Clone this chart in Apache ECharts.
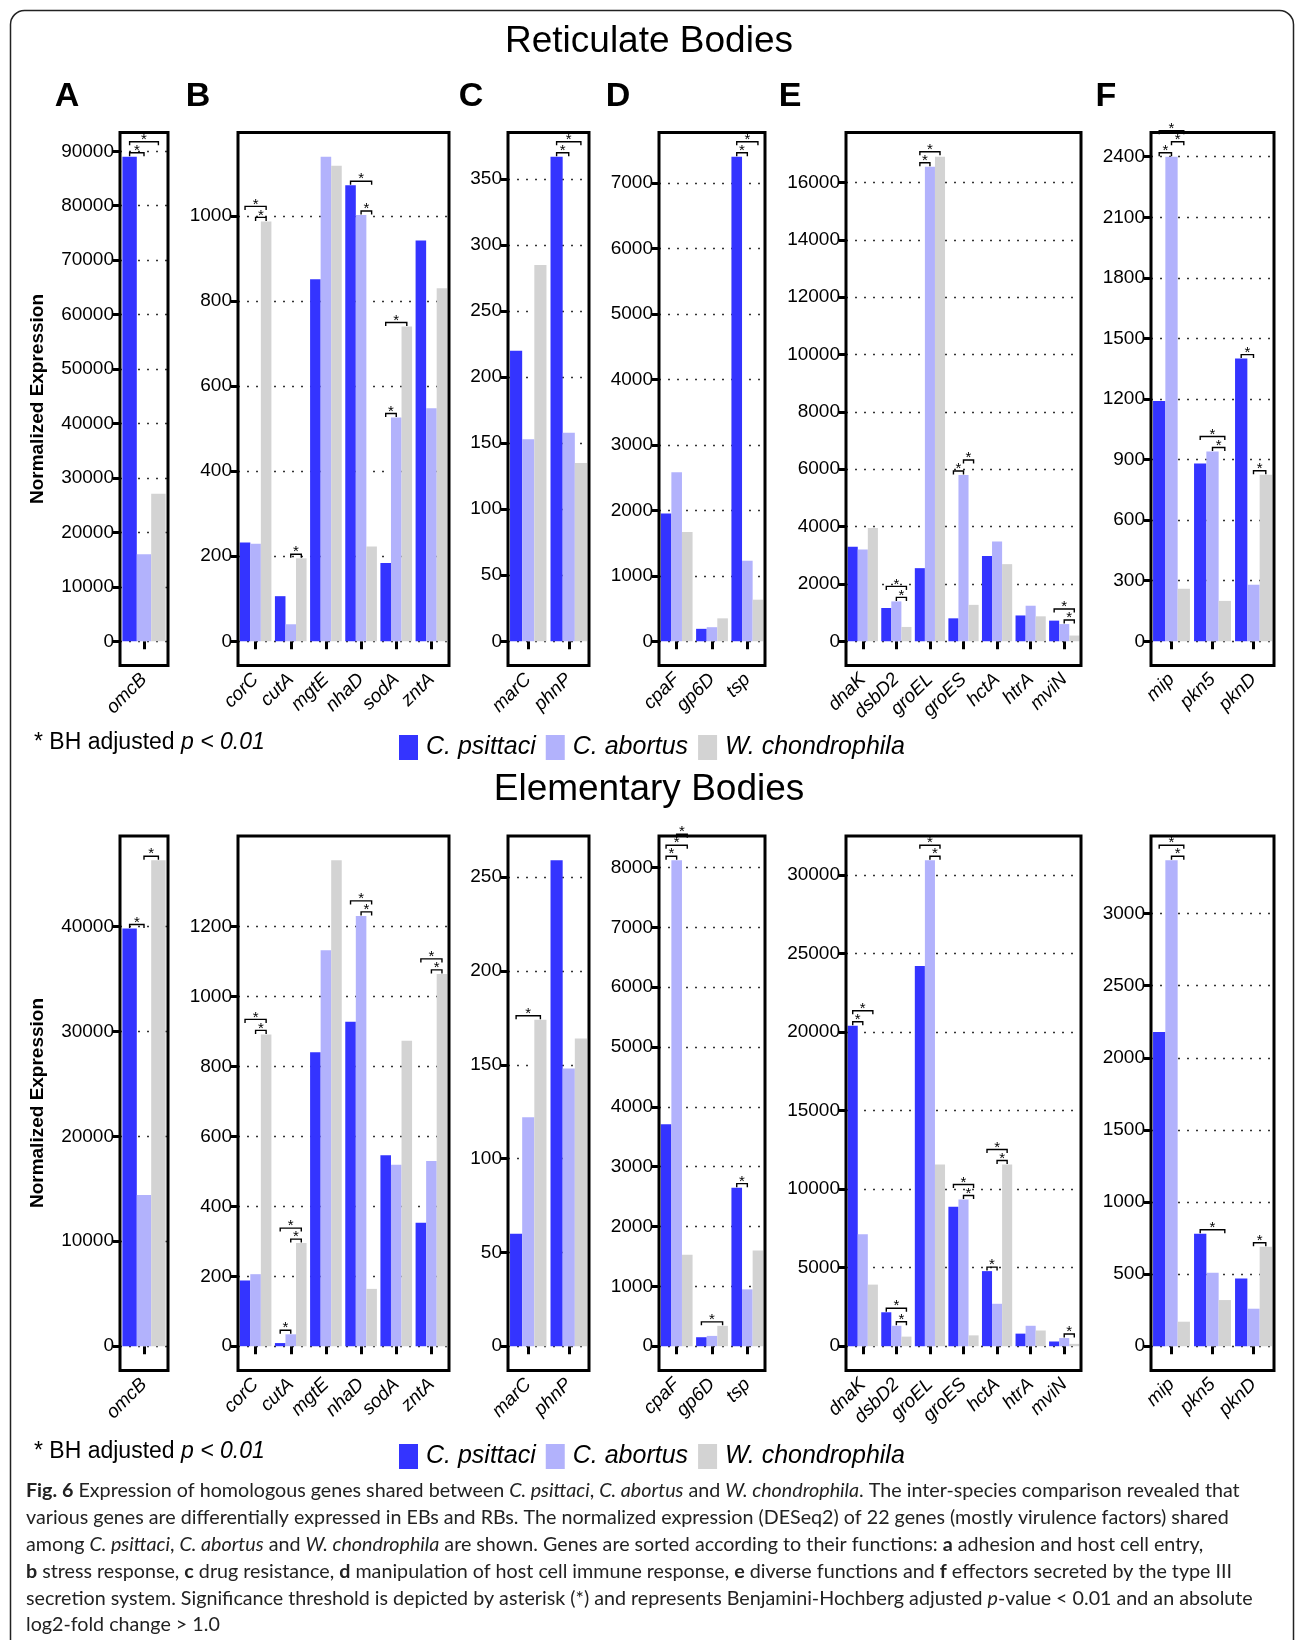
<!DOCTYPE html>
<html>
<head>
<meta charset="utf-8">
<script src="https://cdn.jsdelivr.net/npm/echarts@6/dist/echarts.min.js"></script>
<style>
html,body{margin:0;padding:0;background:#fff;}
#c{width:1295px;height:1640px;}
</style>
</head>
<body>
<div id="c"></div>
<script>
// ---------------- DATA ----------------
const seriesNames = ['C. psittaci', 'C. abortus', 'W. chondrophila'];
const panelLetters = ['A', 'B', 'C', 'D', 'E', 'F'];
const genes = ['omcB',
  'corC', 'cutA', 'mgtE', 'nhaD', 'sodA', 'zntA',
  'marC', 'phnP',
  'cpaF', 'gp6D', 'tsp',
  'dnaK', 'dsbD2', 'groEL', 'groES', 'hctA', 'htrA', 'mviN',
  'mip', 'pkn5', 'pknD'];
const panelGeneCounts = [1, 6, 2, 3, 7, 3];

// Reticulate Bodies
const rb_psittaci = [89000, 232, 106, 851, 1072, 184, 942, 220, 367, 1950, 190, 7400,
  3300, 1160, 2550, 800, 2970, 900, 720, 1190, 880, 1400];
const rb_abortus = [16000, 229, 40, 1139, 1002, 526, 548, 153, 158, 2580, 215, 1230,
  3200, 1390, 16550, 5800, 3480, 1240, 600, 2400, 940, 280];
const rb_chondrophila = [27100, 987, 195, 1118, 223, 740, 830, 285, 135, 1670, 350, 635,
  3950, 500, 16900, 1270, 2690, 870, 200, 260, 200, 825];
// y tick labels: step and highest labelled tick per panel
const rbTickSteps = [10000, 200, 50, 1000, 2000, 300];
const rbTickMax = [90000, 1000, 350, 7000, 16000, 2400];

// Elementary Bodies
const eb_psittaci = [39800, 188, 9, 841, 928, 546, 353, 60, 259, 3710, 150, 2650,
  20400, 2160, 24200, 8870, 4780, 800, 300, 2180, 780, 470];
const eb_abortus = [14400, 206, 34, 1133, 1231, 519, 530, 122, 148, 8120, 172, 950,
  7130, 1300, 30930, 9340, 2700, 1300, 520, 3370, 510, 260];
const eb_chondrophila = [46300, 892, 295, 1390, 164, 874, 1065, 174, 164, 1530, 340, 1600,
  3920, 610, 11570, 690, 11570, 1000, 150, 170, 320, 690];
const ebTickSteps = [10000, 200, 50, 1000, 5000, 500];
const ebTickMax = [40000, 1200, 250, 8000, 30000, 3000];

// significance brackets: [gene, fromSpecies, toSpecies] (0 psittaci, 1 abortus, 2 chondrophila)
const rbBrackets = [
  ['omcB', 0, 1], ['omcB', 0, 2],
  ['corC', 1, 2], ['corC', 0, 2],
  ['cutA', 1, 2],
  ['nhaD', 1, 2], ['nhaD', 0, 2],
  ['sodA', 0, 1], ['sodA', 0, 2],
  ['phnP', 0, 1], ['phnP', 0, 2],
  ['tsp', 0, 1], ['tsp', 0, 2],
  ['dsbD2', 1, 2], ['dsbD2', 0, 2],
  ['groEL', 0, 1], ['groEL', 0, 2],
  ['groES', 0, 1], ['groES', 1, 2],
  ['mviN', 1, 2], ['mviN', 0, 2],
  ['mip', 0, 1], ['mip', 1, 2], ['mip', 0, 2],
  ['pkn5', 1, 2], ['pkn5', 0, 2],
  ['pknD', 0, 1], ['pknD', 1, 2]
];
const ebBrackets = [
  ['omcB', 0, 1], ['omcB', 1, 2],
  ['corC', 1, 2], ['corC', 0, 2],
  ['cutA', 0, 1], ['cutA', 1, 2], ['cutA', 0, 2],
  ['nhaD', 1, 2], ['nhaD', 0, 2],
  ['zntA', 1, 2], ['zntA', 0, 2],
  ['marC', 0, 2],
  ['cpaF', 0, 1], ['cpaF', 0, 2], ['cpaF', 1, 2],
  ['gp6D', 0, 2],
  ['tsp', 0, 1],
  ['dnaK', 0, 1], ['dnaK', 0, 2],
  ['dsbD2', 1, 2], ['dsbD2', 0, 2],
  ['groEL', 1, 2], ['groEL', 0, 2],
  ['groES', 1, 2], ['groES', 0, 2],
  ['hctA', 0, 1], ['hctA', 1, 2], ['hctA', 0, 2],
  ['mviN', 1, 2],
  ['mip', 1, 2], ['mip', 0, 2],
  ['pkn5', 0, 2],
  ['pknD', 1, 2]
];

// ---------------- LAYOUT / STYLE ----------------
const FONT = 'Liberation Sans, Arial, Helvetica, sans-serif';
const colors = ['#3434ff', '#b2b2fc', '#d3d3d3'];
const boxLeft = [120, 238, 508, 659, 846, 1151];
const boxRight = [168, 449, 589, 765, 1081, 1274];
const rows = [
  { top: 132.5, bottom: 665.5, vals: [rb_psittaci, rb_abortus, rb_chondrophila], steps: rbTickSteps, tmax: rbTickMax, brackets: rbBrackets },
  { top: 836, bottom: 1370.5, vals: [eb_psittaci, eb_abortus, eb_chondrophila], steps: ebTickSteps, tmax: ebTickMax, brackets: ebBrackets }
];

const grids = [], xAxes = [], yAxes = [], series = [], graphics = [];

function bracketRenderer() {
  let state = {};
  const GAP = 4, STEP = 11;
  return function (params, api) {
    if (params.dataIndex === 0) state = {};
    const g = api.value(0), from = api.value(1), to = api.value(2), top = api.value(3);
    const c = api.coord([g, top]);
    const band = api.size([1, 0])[0];
    const bw = band * 0.9 / 3;
    const x1 = c[0] + (from - 1) * bw, x2 = c[0] + (to - 1) * bw;
    let y = c[1] - GAP;
    const list = state[g] || (state[g] = []);
    let changed = true, guard = 0;
    while (changed && guard++ < 10) {
      changed = false;
      for (const e of list) {
        const overlap = !(to < e.from || from > e.to);
        if (overlap && Math.abs(y - e.y) < STEP) { y = e.y - STEP; changed = true; }
      }
    }
    list.push({ from: from, to: to, y: y });
    return {
      type: 'group',
      children: [
        { type: 'polyline', shape: { points: [[x1, y + 3.5], [x1, y], [x2, y], [x2, y + 3.5]] },
          style: { stroke: '#000', lineWidth: 1.4, fill: null } },
        { type: 'text', style: { text: '*', x: (x1 + x2) / 2, y: y - 2, align: 'center', verticalAlign: 'middle',
          font: '15px ' + FONT, fill: '#000' } }
      ]
    };
  };
}

let gi = 0;
rows.forEach((row, r) => {
  const H = row.bottom - row.top;
  const exp = H * 0.05 / 1.1;
  const zeroY = row.bottom - exp;
  const maxY = row.top + exp;
  let start = 0;
  panelGeneCounts.forEach((n, p) => {
    const pg = genes.slice(start, start + n);
    const idx = pg.map((g, i) => start + i);
    const pv = row.vals.map(arr => idx.map(k => arr[k]));
    const dataMax = Math.max(...pv.flat());
    const step = row.steps[p];
    const niceMax = row.tmax[p];
    const gridTop = zeroY - niceMax / dataMax * (zeroY - maxY);
    grids.push({ left: boxLeft[p], top: gridTop, width: boxRight[p] - boxLeft[p], height: zeroY - gridTop,
      outerBoundsMode: 'none', containLabel: false });
    xAxes.push({
      gridIndex: gi, type: 'category', data: pg, offset: row.bottom - zeroY,
      axisLine: { show: false },
      axisTick: { show: true, alignWithLabel: true, length: 8, lineStyle: { color: '#000', width: 3 } },
      axisLabel: { interval: 0, rotate: 45, fontStyle: 'italic', fontSize: 19, color: '#000', margin: 11, fontFamily: FONT },
      splitLine: { show: false }
    });
    yAxes.push({
      gridIndex: gi, type: 'value', min: 0, max: niceMax, interval: step,
      axisLine: { show: false },
      axisTick: { show: true, length: 7, lineStyle: { color: '#000', width: 3 } },
      axisLabel: { fontSize: 19, color: '#000', margin: 6, fontFamily: FONT, formatter: v => String(v) },
      splitLine: { show: true, lineStyle: { type: [2, 7], color: '#333', width: 1.4 } }
    });
    for (let s = 0; s < 3; s++) {
      series.push({
        type: 'bar', name: seriesNames[s], xAxisIndex: gi, yAxisIndex: gi,
        data: pv[s], barGap: '0%', barCategoryGap: '10%', clip: false,
        itemStyle: { color: colors[s] }, animation: false, z: 2
      });
    }
    const bdata = row.brackets.filter(b => pg.includes(b[0])).map(b => {
      const li = pg.indexOf(b[0]);
      let m = 0;
      for (let s = b[1]; s <= b[2]; s++) m = Math.max(m, pv[s][li]);
      return [li, b[1], b[2], m];
    });
    series.push({
      type: 'custom', name: 'sig', xAxisIndex: gi, yAxisIndex: gi, clip: false, animation: false, z: 5,
      renderItem: bracketRenderer(), data: bdata, silent: true
    });
    graphics.push({
      type: 'rect', z: 100, silent: true,
      shape: { x: boxLeft[p], y: row.top, width: boxRight[p] - boxLeft[p], height: H },
      style: { fill: null, stroke: '#000', lineWidth: 3 }
    });
    start += n;
    gi++;
  });
});

// outer border
graphics.push({ type: 'rect', z: 0, silent: true, shape: { x: 10.5, y: 10.5, width: 1283, height: 1680, r: 14 },
  style: { fill: null, stroke: '#222', lineWidth: 1.5 } });

// titles
graphics.push({ type: 'text', style: { text: 'Reticulate Bodies', x: 649, y: 42, align: 'center', verticalAlign: 'middle',
  font: '37px ' + FONT, fill: '#000' } });
graphics.push({ type: 'text', style: { text: 'Elementary Bodies', x: 649, y: 790, align: 'center', verticalAlign: 'middle',
  font: '37px ' + FONT, fill: '#000' } });
const letterX = [67, 198, 471, 618, 790, 1106];
panelLetters.forEach((L, i) => {
  graphics.push({ type: 'text', style: { text: L, x: letterX[i], y: 97, align: 'center', verticalAlign: 'middle',
    font: 'bold 34px ' + FONT, fill: '#000' } });
});
// y titles
[399, 1103].forEach(cy => {
  graphics.push({ type: 'text', rotation: Math.PI / 2, x: 38, y: cy,
    style: { text: 'Normalized Expression', x: 0, y: 0, align: 'center', verticalAlign: 'middle',
      font: 'bold 19px ' + FONT, fill: '#000' } });
});
// significance note
[743, 1452].forEach(cy => {
  graphics.push({ type: 'text', x: 34, y: cy, style: {
    text: '* BH adjusted {i|p < 0.01}', x: 0, y: 0, verticalAlign: 'middle',
    font: '23px ' + FONT, fill: '#000',
    rich: { i: { fontStyle: 'italic', fontSize: 23, fontFamily: FONT, fill: '#000' } } } });
});
// caption
const captionLines = [
  '{b|Fig. 6} Expression of homologous genes shared between {i|C. psittaci}, {i|C. abortus} and {i|W. chondrophila}. The inter-species comparison revealed that',
  'various genes are differentially expressed in EBs and RBs. The normalized expression (DESeq2) of 22 genes (mostly virulence factors) shared',
  'among {i|C. psittaci}, {i|C. abortus} and {i|W. chondrophila} are shown. Genes are sorted according to their functions: {b|a} adhesion and host cell entry,',
  '{b|b} stress response, {b|c} drug resistance, {b|d} manipulation of host cell immune response, {b|e} diverse functions and {b|f} effectors secreted by the type III',
  'secretion system. Significance threshold is depicted by asterisk (*) and represents Benjamini-Hochberg adjusted {i|p}-value < 0.01 and an absolute',
  'log2-fold change > 1.0'
];
const CAPF = 'Lato, "Open Sans", sans-serif';
const CAPS = 19.7;
captionLines.forEach((ln, i) => {
  graphics.push({ type: 'text', x: 26, y: 1491 + i * 26.8, style: {
    text: ln, x: 0, y: 0, verticalAlign: 'middle', font: CAPS + 'px ' + CAPF, fill: '#222',
    rich: {
      b: { fontWeight: 'bold', fontSize: CAPS, fontFamily: CAPF, fill: '#222' },
      i: { fontStyle: 'italic', fontSize: CAPS, fontFamily: CAPF, fill: '#222' }
    } } });
});

const legends = [730, 1439].map(t => ({
  data: seriesNames, left: 394, top: t, orient: 'horizontal', icon: 'rect',
  itemWidth: 19, itemHeight: 25, itemGap: 10, selectedMode: false,
  textStyle: { fontStyle: 'italic', fontSize: 25, color: '#000', fontFamily: FONT, padding: [0, 0, 0, 3] }
}));

const option = {
  backgroundColor: '#fff',
  animation: false,
  textStyle: { fontFamily: FONT },
  legend: legends,
  grid: grids,
  xAxis: xAxes,
  yAxis: yAxes,
  series: series,
  graphic: { elements: graphics }
};

const chart = echarts.init(document.getElementById('c'), null, { renderer: 'canvas', width: 1295, height: 1640 });
chart.setOption(option);
</script>
</body>
</html>
